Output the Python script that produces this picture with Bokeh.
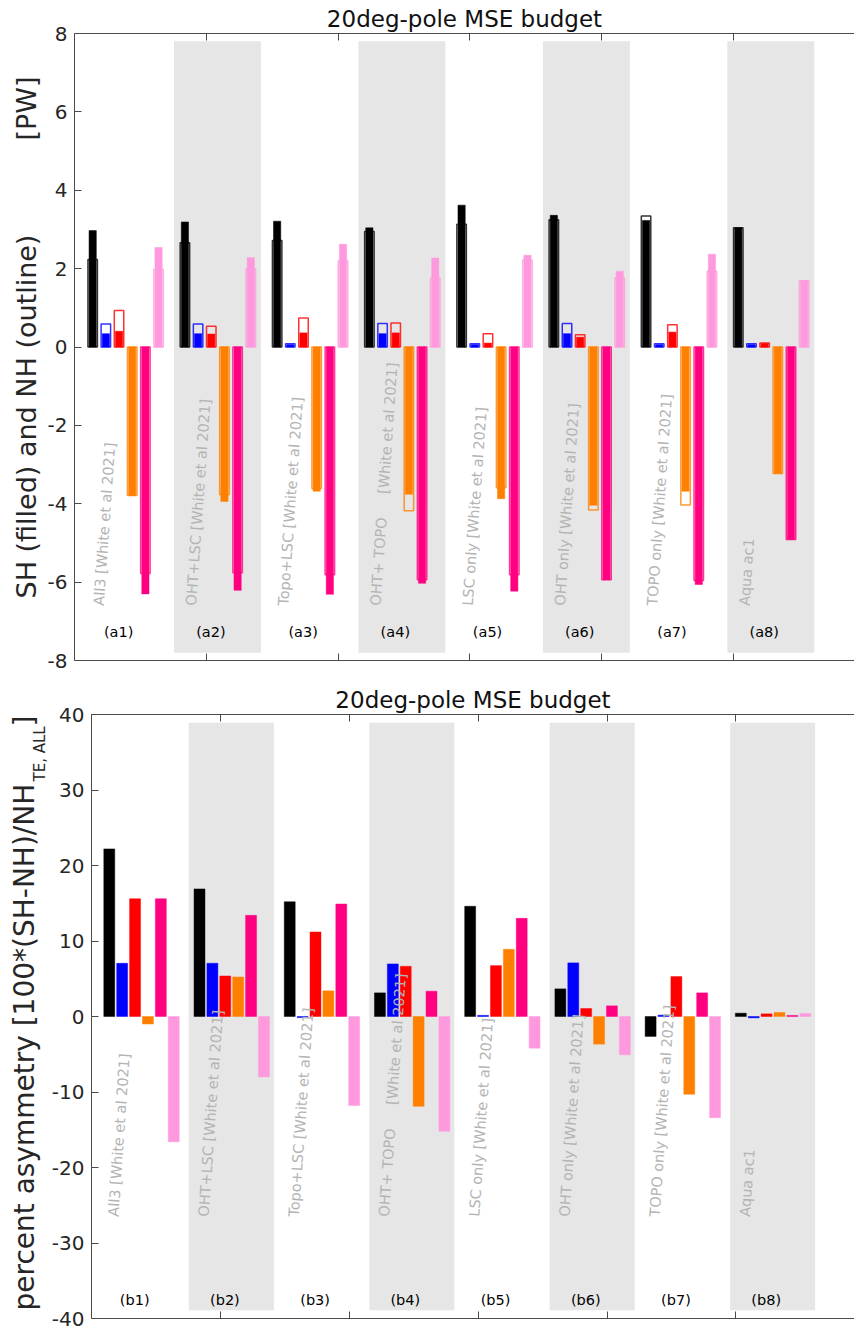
import numpy as np
from bokeh.plotting import figure
from bokeh.models import ColumnDataSource, Range1d, FixedTicker, LinearAxis
from bokeh.layouts import column, row
from bokeh.embed import file_html
from bokeh.resources import INLINE
from bokeh.core.properties import value

# ---------------- data ----------------
experiment_names = [
    "All3 [White et al 2021]",
    "OHT+LSC  [White et al 2021]",
    "Topo+LSC [White et al 2021]",
    "OHT+ TOPO",
    "LSC only [White et al 2021]",
    "OHT only [White et al 2021]",
    "TOPO only  [White et al 2021]",
    "Aqua ac1",
]
# group 4 has its citation set apart along the same slanted line
split_group = 3
split_text = "[White et al 2021]"
split_gap_px = 112

tags_a = ["(a1)", "(a2)", "(a3)", "(a4)", "(a5)", "(a6)", "(a7)", "(a8)"]
tags_b = ["(b1)", "(b2)", "(b3)", "(b4)", "(b5)", "(b6)", "(b7)", "(b8)"]

component_colors = ["#000000", "#0000ff", "#ff0000", "#ff8000", "#ff0080", "#ff99dd"]

# top panel: SH (filled) and NH (outline), PW
sh_black   = [2.97, 3.19, 3.21, 3.04, 3.62, 3.36, 3.23, 3.04]
nh_black   = [2.23, 2.66, 2.72, 2.95, 3.13, 3.25, 3.34, 3.04]
sh_blue    = [0.34, 0.34, 0.06, 0.34, 0.06, 0.34, 0.06, 0.06]
nh_blue    = [0.59, 0.59, 0.08, 0.60, 0.08, 0.60, 0.08, 0.08]
sh_red     = [0.40, 0.33, 0.36, 0.36, 0.10, 0.25, 0.38, 0.09]
nh_red     = [0.93, 0.53, 0.74, 0.61, 0.34, 0.31, 0.57, 0.10]
sh_orange  = [-3.79, -3.94, -3.68, -3.76, -3.87, -4.04, -3.68, -3.23]
nh_orange  = [-3.79, -3.77, -3.61, -4.18, -3.59, -4.16, -4.03, -3.23]
sh_magenta = [-6.30, -6.21, -6.31, -6.03, -6.23, -5.94, -6.06, -4.91]
nh_magenta = [-5.78, -5.76, -5.81, -5.94, -5.81, -5.94, -5.96, -4.91]
sh_pink    = [2.54, 2.28, 2.62, 2.27, 2.34, 1.93, 2.37, 1.69]
nh_pink    = [1.98, 2.00, 2.21, 1.76, 2.22, 1.77, 1.93, 1.69]

# bottom panel: percent asymmetry
asym_black   = [22.2, 16.9, 15.2, 3.13, 14.6, 3.66, -2.64, 0.44]
asym_blue    = [7.05, 7.05, -0.15, 6.96, 0.15, 7.10, 0.18, -0.18]
asym_red     = [15.6, 5.37, 11.2, 6.65, 6.74, 1.06, 5.29, 0.35]
asym_orange  = [-1.0, 5.24, 3.4, -11.9, 8.9, -3.66, -10.3, 0.53]
asym_magenta = [15.6, 13.4, 14.9, 3.35, 13.0, 1.41, 3.13, 0.14]
asym_pink    = [-16.6, -8.0, -11.8, -15.2, -4.2, -5.07, -13.4, 0.40]

sh_values = [sh_black, sh_blue, sh_red, sh_orange, sh_magenta, sh_pink]
nh_values = [nh_black, nh_blue, nh_red, nh_orange, nh_magenta, nh_pink]
asym_values = [asym_black, asym_blue, asym_red, asym_orange, asym_magenta, asym_pink]

top_ylabel_parts = ["SH (filled) and NH (outline)", "[PW]"]
bottom_ylabel_parts = ["percent asymmetry [100*(SH-NH)/NH", "TE, ALL", "]"]
title_text = "20deg-pole MSE budget"

# ---------------- layout constants ----------------
GROUP_STEP = 7.0
BAR_OFFSET = 1.38
BAND_LEFT, BAND_RIGHT = 0.55, 7.15
X_MAX = 59.2
FONT = "DejaVu Sans"
AXIS_COLOR = "#4a4a4a"
LABEL_COLOR = "#262626"
TEXT_GRAY = "#b4b4b4"
BAND_COLOR = "#e6e6e6"
TEXT_ANGLE = np.deg2rad(86)

PAGE_W = 854
LAB1_W, LAB2_W = 44, 48
P1_TOP, P1_FRAME_H, P1_BOTTOM = 33, 627, 14
P2_TOP, P2_FRAME_H, P2_BOTTOM = 40, 604, 12

n_groups = len(experiment_names)
group_starts = [GROUP_STEP * g for g in range(n_groups)]


def make_fig(width, height, ylim, yticks, min_left, min_top, min_bottom):
    p = figure(width=width, height=height, x_range=Range1d(0, X_MAX),
               y_range=Range1d(*ylim), output_backend="svg",
               toolbar_location=None, min_border_left=min_left,
               min_border_right=0, min_border_top=min_top,
               min_border_bottom=min_bottom, title=title_text)
    p.title.text_font = FONT
    p.title.text_font_size = "23px"
    p.title.text_font_style = "normal"
    p.title.text_color = "#111111"
    p.title.align = "center"
    p.title.standoff = 4
    p.outline_line_color = None
    p.xgrid.visible = False
    p.ygrid.visible = False
    ya = p.left[0]
    ya.ticker = FixedTicker(ticks=yticks)
    ya.major_label_overrides = {t: str(t) for t in yticks}
    ya.major_tick_in = 7
    ya.major_tick_out = 0
    ya.minor_tick_line_color = None
    ya.axis_line_color = AXIS_COLOR
    ya.major_tick_line_color = AXIS_COLOR
    ya.major_label_text_font = FONT
    ya.major_label_text_font_size = "20px"
    ya.major_label_text_color = LABEL_COLOR
    ya.major_label_standoff = 7
    top_axis = LinearAxis()
    p.add_layout(top_axis, "above")
    for xa in (p.below[0], top_axis):
        xa.ticker = FixedTicker(ticks=[10, 20, 30, 40, 50])
        xa.major_tick_in = 7
        xa.major_tick_out = 0
        xa.minor_tick_line_color = None
        xa.axis_line_color = AXIS_COLOR
        xa.major_tick_line_color = AXIS_COLOR
        xa.major_label_text_font_size = "1px"
        xa.major_label_text_color = None
        xa.major_label_standoff = 0
    return p


def make_label_fig(width, height, frame_h, min_top, min_bottom, xs, ys, texts, sizes):
    f = figure(width=width, height=height, x_range=Range1d(0, width),
               y_range=Range1d(0, frame_h), output_backend="svg",
               toolbar_location=None, min_border_left=0, min_border_right=0,
               min_border_top=min_top, min_border_bottom=min_bottom)
    f.axis.visible = False
    f.grid.visible = False
    f.outline_line_color = None
    src = ColumnDataSource(dict(x=xs, y=ys, text=texts, size=sizes))
    f.text(x="x", y="y", text="text", source=src, angle=np.pi / 2,
           text_align="left", text_baseline="middle", text_font=value(FONT),
           text_font_size="size", text_color=LABEL_COLOR)
    return f


def add_bands(p, half_height):
    lefts = [group_starts[g] + BAND_LEFT for g in range(1, n_groups, 2)]
    rights = [group_starts[g] + BAND_RIGHT for g in range(1, n_groups, 2)]
    p.quad(left=lefts, right=rights, bottom=-half_height, top=half_height,
           fill_color=BAND_COLOR, line_color=None)


def add_texts(p, x_off, y_name, y_tag, tags, px_per_x, px_per_y):
    xs = [s + x_off for s in group_starts]
    ys = [y_name] * n_groups
    texts = list(experiment_names)
    # set-apart citation of group 4, continuing along the slanted line
    xs.append(xs[split_group] + split_gap_px * np.cos(TEXT_ANGLE) / px_per_x)
    ys.append(y_name + split_gap_px * np.sin(TEXT_ANGLE) / px_per_y)
    texts.append(split_text)
    src = ColumnDataSource(dict(x=xs, y=ys, text=texts))
    p.text(x="x", y="y", text="text", source=src, angle=TEXT_ANGLE,
           text_align="left", text_baseline="middle",
           text_font=value(FONT), text_font_size="14.5px", text_color=TEXT_GRAY)
    src2 = ColumnDataSource(dict(
        x=[s + 3.35 for s in group_starts], y=[y_tag] * n_groups, text=tags))
    p.text(x="x", y="y", text="text", source=src2, text_align="center",
           text_baseline="middle", text_font=value(FONT),
           text_font_size="14.5px", text_color="black")


# ---------------- top panel ----------------
h1 = P1_TOP + P1_FRAME_H + P1_BOTTOM
p1 = make_fig(PAGE_W - LAB1_W, h1, (-8, 8), [-8, -6, -4, -2, 0, 2, 4, 6, 8],
              72 - LAB1_W, P1_TOP, P1_BOTTOM)
add_bands(p1, 7.8)
for j, color in enumerate(component_colors):
    xs = [s + BAR_OFFSET + j for s in group_starts]
    p1.vbar(x=xs, bottom=0, top=nh_values[j], width=0.72, fill_color=None,
            line_color=color, line_alpha=0.8, line_width=1.5)
    p1.vbar(x=xs, bottom=0, top=sh_values[j], width=0.55, fill_color=color,
            line_color=color, line_alpha=0.5, line_width=1)
add_texts(p1, 1.85, -6.6, -7.26, tags_a,
          (PAGE_W - 72) / X_MAX, P1_FRAME_H / 16.0)
lab1 = make_label_fig(LAB1_W, h1, P1_FRAME_H, P1_TOP, P1_BOTTOM,
                      [26, 26], [62, 520], top_ylabel_parts, ["27px", "27px"])

# ---------------- bottom panel ----------------
h2 = P2_TOP + P2_FRAME_H + P2_BOTTOM
p2 = make_fig(PAGE_W - LAB2_W, h2, (-40, 40), [-40, -30, -20, -10, 0, 10, 20, 30, 40],
              90 - LAB2_W, P2_TOP, P2_BOTTOM)
add_bands(p2, 38.9)
for j, color in enumerate(component_colors):
    xs = [s + BAR_OFFSET + j for s in group_starts]
    p2.vbar(x=xs, bottom=0, top=asym_values[j], width=0.85, fill_color=color,
            line_color=color, line_alpha=0.45, line_width=1)
add_texts(p2, 1.7, -26.5, -37.5, tags_b,
          (PAGE_W - 90) / X_MAX, P2_FRAME_H / 80.0)
lab2 = make_label_fig(LAB2_W, h2, P2_FRAME_H, P2_TOP, P2_BOTTOM,
                      [24, 39, 24], [8, 537, 592], bottom_ylabel_parts,
                      ["28px", "15px", "28px"])

layout = column(row(lab1, p1, spacing=0), row(lab2, p2, spacing=0), spacing=0)
open("out.html", "w").write(file_html(layout, INLINE))
